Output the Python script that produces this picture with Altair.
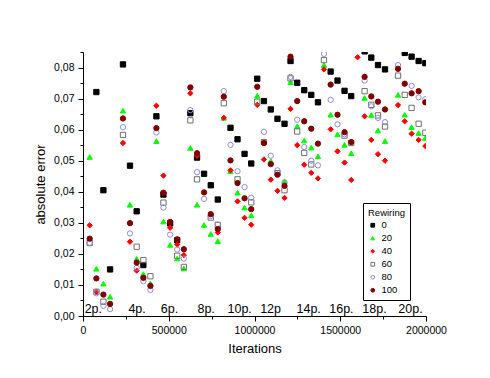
import altair as alt
import pandas as pd

# Iteration positions of the sample columns
iterations = [39000, 78000, 119000, 158000,
              233000, 274000, 313000, 352000, 393000,
              428000, 469000, 508000, 549000, 588000,
              626000, 665000, 706000, 745000, 786000,
              821000, 860000, 901000, 942000, 981000,
              1016000, 1055000, 1095000, 1134000, 1175000,
              1210000, 1249000, 1290000, 1331000, 1370000,
              1405000, 1444000, 1484000, 1525000, 1564000,
              1601000, 1642000, 1681000, 1720000, 1761000,
              1837000, 1876000, 1916000, 1957000, 1996000]

rew_0 = [None, 0.0721, 0.0405, 0.0150,
         0.0810, 0.0484, 0.0337, 0.0164, None,
         0.0643, 0.0391, 0.0298, 0.0244, None,
         0.0653, 0.0510, 0.0458, 0.0421, 0.0375,
         None, 0.0606, 0.0569, 0.0522, 0.0491,
         0.0764, 0.0692, 0.0665, 0.0635, 0.0619,
         0.0821, 0.0751, 0.0727, 0.0712, 0.0688,
         None, 0.0787, 0.0758, 0.0725, 0.0708,
         None, 0.0852, 0.0832, 0.0808, 0.0794,
         None, 0.0847, 0.0835, 0.0821, 0.0814]

rew_20 = [0.0512, 0.0152, 0.0104, 0.0062,
          0.0661, 0.0358, 0.0184, 0.0135, 0.0105,
          0.0563, 0.0304, 0.0229, 0.0185, 0.0153,
          0.0541, 0.0358, 0.0293, 0.0264, 0.0241,
          0.0638, 0.0466, 0.0397, 0.0349, 0.0324,
          0.0709, 0.0560, 0.0499, None, 0.0434,
          0.0753, 0.0611, 0.0565, 0.0542, 0.0514,
          0.0808, 0.0648, 0.0585, 0.0551, 0.0524,
          None, 0.0702, 0.0647, 0.0597, 0.0563,
          0.0712, 0.0648, 0.0608, 0.0589, 0.0573]

rew_40 = [0.0292, 0.0078, None, None,
          0.0557, 0.0239, 0.0146, None, None,
          0.0677, 0.0452, 0.0284, 0.0230, 0.0196,
          0.0717, 0.0516, None, None, 0.0269,
          0.0638, 0.0469, 0.0369, 0.0316, 0.0294,
          0.0680, 0.0504, 0.0439, 0.0403, 0.0380,
          0.0667, 0.0550, 0.0487, 0.0461, 0.0443,
          0.0794, 0.0601, 0.0530, 0.0494, 0.0438,
          0.0833, 0.0643, 0.0567, 0.0521, 0.0500,
          0.0679, 0.0627, 0.0587, 0.0567, 0.0547]

rew_60 = [0.0235, 0.0078, 0.0046, None,
          0.0583, None, 0.0223, 0.0180, 0.0128,
          None, 0.0365, None, 0.0194, 0.0158,
          0.0630, 0.0440, None, 0.0317, 0.0293,
          0.0685, None, 0.0440, None, 0.0366,
          0.0690, 0.0560, None, 0.0460, 0.0405,
          0.0765, 0.0594, 0.0525, 0.0488, None,
          0.0824, None, None, 0.0581, 0.0557,
          None, 0.0724, 0.0680, 0.0646, 0.0610,
          0.0774, 0.0712, 0.0670, 0.0619, 0.0590]

rew_80 = [0.0236, 0.0073, 0.0033, 0.0022,
          0.0608, 0.0266, 0.0155, 0.0112, 0.0084,
          0.0591, 0.0349, 0.0262, 0.0214, 0.0185,
          0.0663, 0.0463, 0.0377, 0.0322, 0.0295,
          0.0724, 0.0551, 0.0466, 0.0415, 0.0381,
          None, 0.0593, 0.0516, 0.0469, 0.0430,
          0.0770, 0.0632, 0.0544, 0.0500, 0.0485,
          0.0844, 0.0696, 0.0617, 0.0585, None,
          None, 0.0758, 0.0675, 0.0638, 0.0624,
          0.0808, None, 0.0741, 0.0704, 0.0698]

rew_100 = [0.0249, 0.0121, 0.0069, 0.0039,
           0.0636, 0.0299, 0.0172, 0.0123, 0.0097,
           0.0605, 0.0397, 0.0303, 0.0247, 0.0215,
           0.0736, 0.0524, 0.0398, 0.0328, 0.0280,
           0.0706, 0.0501, 0.0428, 0.0379, 0.0344,
           0.0738, 0.0557, 0.0489, 0.0455, 0.0419,
           0.0835, 0.0692, 0.0627, 0.0603, 0.0555,
           None, 0.0745, 0.0648, 0.0592, 0.0560,
           None, 0.0770, 0.0707, 0.0690, 0.0665,
           0.0796, 0.0748, 0.0717, 0.0724, 0.0688]

series_names = ["0", "20", "40", "60", "80", "100"]
series_values = [rew_0, rew_20, rew_40, rew_60, rew_80, rew_100]

group_labels = ["2p.", "4p.", "6p.", "8p.", "10p.", "12p", "14p.", "16p.", "18p.", "20p."]
group_label_x = [9700, 264600, 453300, 667300, 842400, 1033000, 1245000, 1435800, 1628400, 1838500]
group_label_y = 0.00107

rows = []
for name, vals in zip(series_names, series_values):
    for it, v in zip(iterations, vals):
        if v is not None:
            rows.append({"Iterations": it, "err": v, "Rewiring": name})
df = pd.DataFrame(rows)

labels_df = pd.DataFrame({"x": group_label_x, "y": [group_label_y] * len(group_labels), "label": group_labels})

shapes = ["square", "triangle-up", "diamond", "square", "circle", "circle"]
fills = ["#000000", "#00ff00", "#ff0000", "transparent", "transparent", "#800000"]
strokes = ["#000000", "#00ff00", "#ff0000", "#707070", "#8c8cdc", "#800000"]

x_ticks = [i * 250000 for i in range(9)]
y_ticks = [round(i * 0.005, 3) for i in range(18)]

FONT = "Liberation Sans"

xscale = alt.Scale(domain=[0, 2000000], nice=False)
yscale = alt.Scale(domain=[0, 0.085], nice=False)

x_axis = alt.Axis(
    values=x_ticks,
    labelExpr="datum.value % 500000 == 0 ? format(datum.value, 'd') : ''",
    tickSize={"condition": {"test": "datum.value % 500000 == 0", "value": 5}, "value": 3},
    labelPadding=4, labelFontSize=10.5, labelFlush=False, labelOverlap=False,
    title="Iterations", titleFontSize=13, titleFontWeight="normal", titlePadding=7,
)
y_axis = alt.Axis(
    values=y_ticks,
    labelExpr="round(datum.value * 200) % 2 == 0 ? replace(format(datum.value, '.2f'), '.', ',') : ''",
    tickSize={"condition": {"test": "round(datum.value * 200) % 2 == 0", "value": 5}, "value": 3},
    labelPadding=4, labelFontSize=10.5, labelFlush=False, labelOverlap=False,
    title="absolute error", titleFontSize=13, titleFontWeight="normal", titlePadding=6,
)

legend = alt.Legend(
    title="Rewiring", orient="bottom-right", offset=16,
    strokeColor="black", fillColor="white", padding=5,
    titleFontSize=9.5, titleFontWeight="normal", titleFont=FONT, titleColor="black",
    titlePadding=3, labelFontSize=9.5, labelFont=FONT, labelColor="black",
    symbolSize=14, symbolStrokeWidth=1, rowPadding=2,
)

points = alt.Chart(df).mark_point(clip=True, strokeWidth=1, opacity=1, size=28).encode(
    x=alt.X("Iterations:Q", scale=xscale, axis=x_axis),
    y=alt.Y("err:Q", scale=yscale, axis=y_axis),
    shape=alt.Shape("Rewiring:N", scale=alt.Scale(domain=series_names, range=shapes), legend=legend),
    fill=alt.Fill("Rewiring:N", scale=alt.Scale(domain=series_names, range=fills), legend=legend),
    stroke=alt.Stroke("Rewiring:N", scale=alt.Scale(domain=series_names, range=strokes), legend=legend),
)

texts = alt.Chart(labels_df).mark_text(
    align="left", baseline="alphabetic", fontSize=12.5, font=FONT, color="black"
).encode(
    x=alt.X("x:Q", scale=xscale, axis=x_axis),
    y=alt.Y("y:Q", scale=yscale, axis=y_axis),
    text="label:N",
)

chart = alt.layer(points, texts).properties(
    width=343, height=264,
    autosize=alt.AutoSizeParams(type="none"),
    padding={"left": 75, "top": 44, "right": 50, "bottom": 50},
    background="white",
).configure_view(stroke=None).configure_axis(
    grid=False, domainColor="black", tickColor="black", labelColor="black",
    titleColor="black", labelFont=FONT, titleFont=FONT, domainWidth=1, tickWidth=1,
)

chart.save("out.html", embed_options={"renderer": "svg", "actions": False})
